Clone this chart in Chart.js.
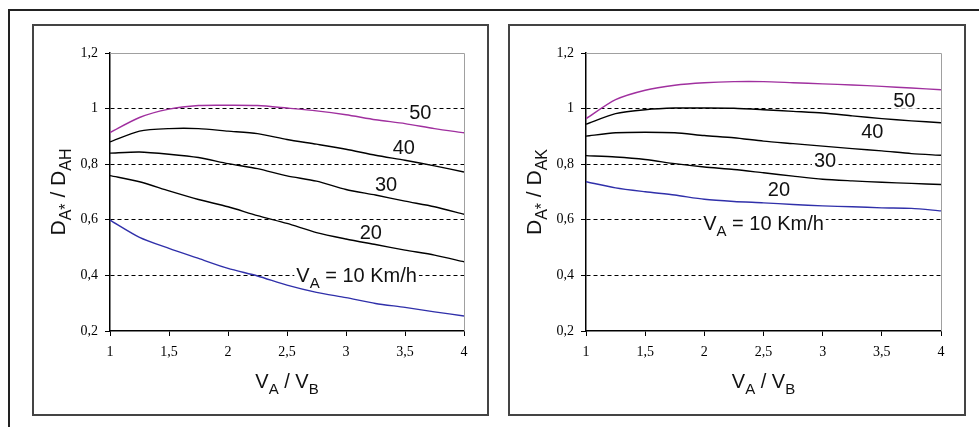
<!DOCTYPE html>
<html lang="es">
<head>
<meta charset="UTF-8">
<title>DA* / DAH y DA* / DAK frente a VA / VB</title>
<script src="https://cdn.jsdelivr.net/npm/chart.js"></script>
<style>
  body { margin: 0; background: #fff; width: 979px; height: 427px; overflow: hidden; position: relative; }
  #frame { position: absolute; left: 8px; top: 9px; width: 990px; height: 430px; border-top: 2px solid #222; border-left: 2px solid #222; }
  .panel { position: absolute; top: 24px; width: 453px; height: 388px; border: 2px solid #444; background: #fff; }
  #p1 { left: 32px; }
  #p2 { left: 508px; width: 454px; }
  canvas { display: block; }
</style>
</head>
<body>
<div id="frame"></div>
<div class="panel" id="p1"><canvas id="c1"></canvas></div>
<div class="panel" id="p2"><canvas id="c2"></canvas></div>

<script>
  // VA / VB
  const ratio = [1, 1.25, 1.5, 1.75, 2, 2.25, 2.5, 2.75, 3, 3.25, 3.5, 3.75, 4];

  // D_A* / D_AH (izquierda), una serie por VA en km/h
  const h50 = [0.914, 0.968, 0.998, 1.011, 1.012, 1.011, 1.002, 0.992, 0.978, 0.960, 0.946, 0.928, 0.913];
  const h40 = [0.880, 0.919, 0.928, 0.928, 0.919, 0.910, 0.889, 0.872, 0.854, 0.832, 0.814, 0.794, 0.772];
  const h30 = [0.840, 0.844, 0.836, 0.824, 0.802, 0.784, 0.758, 0.739, 0.709, 0.689, 0.667, 0.647, 0.620];
  const h20 = [0.759, 0.737, 0.704, 0.673, 0.647, 0.615, 0.587, 0.554, 0.531, 0.511, 0.491, 0.473, 0.449];
  const h10 = [0.599, 0.537, 0.497, 0.461, 0.425, 0.398, 0.365, 0.339, 0.320, 0.299, 0.285, 0.269, 0.254];

  // D_A* / D_AK (derecha)
  const k50 = [0.964, 1.032, 1.066, 1.084, 1.093, 1.097, 1.097, 1.093, 1.089, 1.085, 1.080, 1.074, 1.068];
  const k40 = [0.944, 0.982, 0.996, 1.002, 1.002, 1.001, 0.996, 0.990, 0.984, 0.974, 0.964, 0.956, 0.949];
  const k30 = [0.901, 0.913, 0.915, 0.913, 0.903, 0.895, 0.883, 0.874, 0.865, 0.856, 0.848, 0.838, 0.832];
  const k20 = [0.831, 0.826, 0.817, 0.802, 0.790, 0.781, 0.769, 0.757, 0.746, 0.740, 0.735, 0.731, 0.727];
  const k10 = [0.737, 0.715, 0.701, 0.689, 0.674, 0.666, 0.661, 0.655, 0.650, 0.647, 0.643, 0.641, 0.632];

  // etiquetas de curva: texto y punto (VA/VB, ordenada) donde se centran
  const labelsH = [
    { t: [['50']], x: 3.63, y: 0.988 },
    { t: [['40']], x: 3.49, y: 0.862 },
    { t: [['30']], x: 3.34, y: 0.727 },
    { t: [['20']], x: 3.21, y: 0.557 },
    { t: [['V'], ['A', 1], [' = 10 Km/h']], x: 3.09, y: 0.400 }
  ];
  const labelsK = [
    { t: [['50']], x: 3.69, y: 1.032 },
    { t: [['40']], x: 3.42, y: 0.920 },
    { t: [['30']], x: 3.02, y: 0.814 },
    { t: [['20']], x: 2.63, y: 0.709 },
    { t: [['V'], ['A', 1], [' = 10 Km/h']], x: 2.50, y: 0.587 }
  ];

  const purple = '#a0309f';
  const blue = '#3030aa';
  const FONT = '"Liberation Sans", Arial, sans-serif';

  const fmt = v => String(Math.round(v * 10) / 10).replace('.', ',');

  // texto con subindices: parts = [[texto, esSub], ...]
  function richWidth(ctx, parts, size) {
    let w = 0;
    parts.forEach(p => {
      ctx.font = (p[1] ? Math.round(size * 0.75) : size) + 'px ' + FONT;
      w += ctx.measureText(p[0]).width;
    });
    return w;
  }
  function drawRich(ctx, parts, cx, base, size) {
    let x = cx - richWidth(ctx, parts, size) / 2;
    ctx.textAlign = 'left';
    ctx.textBaseline = 'alphabetic';
    parts.forEach(p => {
      ctx.font = (p[1] ? Math.round(size * 0.75) : size) + 'px ' + FONT;
      ctx.fillText(p[0], x, base + (p[1] ? size * 0.3 : 0));
      x += ctx.measureText(p[0]).width;
    });
  }

  function makeAnnot(labels, yTitle) {
    return {
      id: 'annot',
      beforeDatasetsDraw(chart) {
        const { ctx, chartArea: a, scales: { x, y } } = chart;
        ctx.save();
        ctx.strokeStyle = '#a0a0a0';
        ctx.lineWidth = 1;
        ctx.beginPath();
        ctx.moveTo(a.left, a.top + 0.5);
        ctx.lineTo(a.right + 0.5, a.top + 0.5);
        ctx.lineTo(a.right + 0.5, a.bottom);
        ctx.stroke();
        labels.forEach(l => {
          const px = x.getPixelForValue(l.x);
          const py = y.getPixelForValue(l.y);
          const w = richWidth(ctx, l.t, 20);
          ctx.fillStyle = '#fff';
          ctx.fillRect(px - w / 2 - 2, py - 9, w + 4, 18);
          ctx.fillStyle = '#111';
          drawRich(ctx, l.t, px, py + 7, 20);
        });
        ctx.restore();
      },
      afterDraw(chart) {
        const { ctx, chartArea: a } = chart;
        ctx.save();
        ctx.fillStyle = '#111';
        drawRich(ctx, [['V'], ['A', 1], [' / '], ['V'], ['B', 1]], (a.left + a.right) / 2, a.bottom + 57, 20);
        ctx.translate(a.left - 52, (a.top + a.bottom) / 2);
        ctx.rotate(-Math.PI / 2);
        drawRich(ctx, yTitle, 0, 7, 21);
        ctx.restore();
      }
    };
  }

  function series(vals, color) {
    return {
      data: ratio.map((r, i) => ({ x: r, y: vals[i] })),
      borderColor: color,
      borderWidth: 1.4,
      pointRadius: 0,
      tension: 0.25,
      fill: false
    };
  }

  function makeChart(id, sets, labels, yTitle) {
    return new Chart(document.getElementById(id), {
      type: 'line',
      data: { datasets: sets },
      options: {
        responsive: true,
        maintainAspectRatio: false,
        devicePixelRatio: 1,
        animation: false,
        layout: { padding: { top: 27, right: 23, left: 0, bottom: 0 } },
        plugins: { legend: { display: false }, tooltip: { enabled: false } },
        scales: {
          x: {
            type: 'linear', min: 1, max: 4,
            afterFit: s => { s.height = 83; },
            ticks: { stepSize: 0.5, padding: 8, color: '#000', maxRotation: 0, autoSkip: false,
                     font: { family: '"Liberation Serif"', size: 14 }, callback: fmt },
            grid: { drawOnChartArea: false, tickLength: 5, tickColor: '#000', color: '#000' },
            border: { color: '#000', width: 1.5 }
          },
          y: {
            min: 0.2, max: 1.2,
            afterFit: s => { s.width = 76; },
            ticks: { stepSize: 0.2, padding: 7, color: '#000',
                     font: { family: '"Liberation Serif"', size: 14 }, callback: fmt },
            grid: {
              color: c => (c.tick && (Math.abs(c.tick.value - 1.2) < 1e-6 || Math.abs(c.tick.value - 0.2) < 1e-6)) ? 'rgba(0,0,0,0)' : '#000',
              tickColor: '#000', tickLength: 5, lineWidth: 1
            },
            border: { color: '#000', width: 1.5, dash: [4, 3] }
          }
        }
      },
      plugins: [makeAnnot(labels, yTitle)]
    });
  }

  makeChart('c1',
    [series(h50, purple), series(h40, '#000'), series(h30, '#000'), series(h20, '#000'), series(h10, blue)],
    labelsH, [['D'], ['A*', 1], [' / '], ['D'], ['AH', 1]]);
  makeChart('c2',
    [series(k50, purple), series(k40, '#000'), series(k30, '#000'), series(k20, '#000'), series(k10, blue)],
    labelsK, [['D'], ['A*', 1], [' / '], ['D'], ['AK', 1]]);
</script>
</body>
</html>
